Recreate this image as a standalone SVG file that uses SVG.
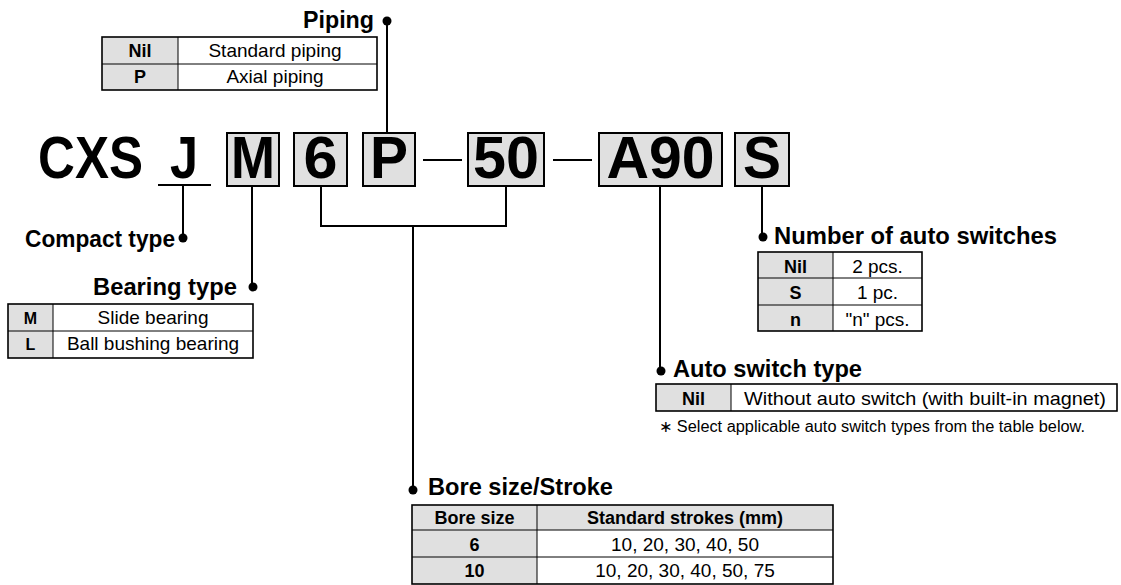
<svg xmlns="http://www.w3.org/2000/svg" width="1121" height="585" viewBox="0 0 1121 585">
<style>
text{font-family:"Liberation Sans",Arial,sans-serif;fill:#000}
.big{font-size:60px;font-weight:bold;text-anchor:middle}
.h{font-size:24px;font-weight:bold}
.t{font-size:19px;text-anchor:middle}
.tb{font-size:18px;font-weight:bold;text-anchor:middle}
.note{font-size:16px}
.box{fill:#e0e0e0;stroke:#000;stroke-width:2}
.cell{fill:#e0e0e0}
.tbl{fill:none;stroke:#000;stroke-width:1.6}
.ln{stroke:#000;stroke-width:1}
.con{fill:none;stroke:#000;stroke-width:2}
.dot{fill:#000}
</style>
<rect width="1121" height="585" fill="#fff"/>
<g id="code">
<text x="38" y="178" class="big" style="text-anchor:start" textLength="105" lengthAdjust="spacingAndGlyphs">CXS</text>
<text x="184" y="178" class="big" textLength="28" lengthAdjust="spacingAndGlyphs">J</text>
<line x1="158" y1="185" x2="211" y2="185" class="con"/>
<rect x="227" y="133" width="52" height="53" class="box"/>
<text x="253" y="178" class="big" textLength="44" lengthAdjust="spacingAndGlyphs">M</text>
<rect x="294" y="133" width="53" height="53" class="box"/>
<text x="320.5" y="178" class="big" textLength="34" lengthAdjust="spacingAndGlyphs">6</text>
<rect x="363" y="133" width="52" height="53" class="box"/>
<text x="389" y="178" class="big" textLength="38" lengthAdjust="spacingAndGlyphs">P</text>
<line x1="423" y1="160" x2="462" y2="160" class="con"/>
<rect x="468" y="133" width="76" height="53" class="box"/>
<text x="506" y="178" class="big" textLength="66" lengthAdjust="spacingAndGlyphs">50</text>
<line x1="553" y1="160" x2="592" y2="160" class="con"/>
<rect x="599" y="133" width="123" height="53" class="box"/>
<text x="660.5" y="178" class="big" textLength="108" lengthAdjust="spacingAndGlyphs">A90</text>
<rect x="735" y="133" width="54" height="53" class="box"/>
<text x="762" y="178" class="big" textLength="38" lengthAdjust="spacingAndGlyphs">S</text>
</g>
<g id="connectors">
<polyline points="387,21 387,133" class="con"/>
<polyline points="183,185 183,237" class="con"/>
<polyline points="252,186 252,287" class="con"/>
<polyline points="321,186 321,226 506,226 506,186" class="con"/>
<polyline points="413,226 413,489" class="con"/>
<polyline points="660,186 660,371" class="con"/>
<polyline points="762,186 762,237" class="con"/>
<circle cx="387" cy="21" r="4.5" class="dot"/>
<circle cx="183" cy="238" r="4.5" class="dot"/>
<circle cx="253" cy="287" r="4.5" class="dot"/>
<circle cx="413" cy="490" r="4.5" class="dot"/>
<circle cx="661" cy="371" r="4.5" class="dot"/>
<circle cx="763" cy="237" r="4.5" class="dot"/>
</g>
<g id="piping">
<text x="374" y="28" class="h" style="text-anchor:end" textLength="71" lengthAdjust="spacingAndGlyphs">Piping</text>
<rect x="102" y="37" width="76" height="53" class="cell"/>
<rect x="102" y="37" width="275" height="53" class="tbl"/>
<line x1="102" y1="64" x2="377" y2="64" class="ln"/>
<line x1="178" y1="37" x2="178" y2="90" class="ln"/>
<text x="140" y="57" class="tb">Nil</text>
<text x="275" y="57" class="t">Standard piping</text>
<text x="140" y="83" class="tb">P</text>
<text x="275" y="83" class="t">Axial piping</text>
</g>
<g id="compact">
<text x="25" y="247" class="h" textLength="150" lengthAdjust="spacingAndGlyphs">Compact type</text>
</g>
<g id="bearing">
<text x="93" y="295" class="h" textLength="144" lengthAdjust="spacingAndGlyphs">Bearing type</text>
<rect x="8" y="304" width="45" height="54" class="cell"/>
<rect x="8" y="304" width="245" height="54" class="tbl"/>
<line x1="8" y1="331" x2="253" y2="331" class="ln"/>
<line x1="53" y1="304" x2="53" y2="358" class="ln"/>
<text x="30.5" y="324" class="tb" style="font-size:16px">M</text>
<text x="153" y="324" class="t">Slide bearing</text>
<text x="30.5" y="350" class="tb" style="font-size:16px">L</text>
<text x="153" y="350" class="t">Ball bushing bearing</text>
</g>
<g id="number">
<text x="774" y="244" class="h" textLength="283" lengthAdjust="spacingAndGlyphs">Number of auto switches</text>
<rect x="758" y="252" width="75" height="79" class="cell"/>
<rect x="758" y="252" width="164" height="79" class="tbl"/>
<line x1="758" y1="278" x2="922" y2="278" class="ln"/>
<line x1="758" y1="305" x2="922" y2="305" class="ln"/>
<line x1="833" y1="252" x2="833" y2="331" class="ln"/>
<text x="795.5" y="273" class="tb">Nil</text>
<text x="877.5" y="273" class="t">2 pcs.</text>
<text x="795.5" y="299" class="tb">S</text>
<text x="877.5" y="299" class="t">1 pc.</text>
<text x="795.5" y="326" class="tb">n</text>
<text x="877.5" y="326" class="t">"n" pcs.</text>
</g>
<g id="autoswitch">
<text x="673" y="377" class="h" textLength="189" lengthAdjust="spacingAndGlyphs">Auto switch type</text>
<rect x="656" y="384" width="75" height="27" class="cell"/>
<rect x="656" y="384" width="461" height="27" class="tbl"/>
<line x1="731" y1="384" x2="731" y2="411" class="ln"/>
<text x="693.5" y="405" class="tb">Nil</text>
<text x="925" y="405" class="t" textLength="362" lengthAdjust="spacingAndGlyphs">Without auto switch (with built-in magnet)</text>
<text x="659" y="432" class="note" textLength="426" lengthAdjust="spacingAndGlyphs">∗ Select applicable auto switch types from the table below.</text>
</g>
<g id="bore">
<text x="428" y="495" class="h" textLength="185" lengthAdjust="spacingAndGlyphs">Bore size/Stroke</text>
<rect x="412" y="505" width="421" height="25" class="cell"/>
<rect x="412" y="530" width="125" height="54" class="cell"/>
<rect x="412" y="505" width="421" height="79" class="tbl"/>
<line x1="412" y1="530" x2="833" y2="530" class="ln"/>
<line x1="412" y1="557" x2="833" y2="557" class="ln"/>
<line x1="537" y1="505" x2="537" y2="584" class="ln"/>
<text x="474.5" y="524" class="tb">Bore size</text>
<text x="685" y="524" class="tb">Standard strokes (mm)</text>
<text x="474.5" y="551" class="tb">6</text>
<text x="685" y="551" class="t">10, 20, 30, 40, 50</text>
<text x="474.5" y="577" class="tb">10</text>
<text x="685" y="577" class="t">10, 20, 30, 40, 50, 75</text>
</g>
</svg>
